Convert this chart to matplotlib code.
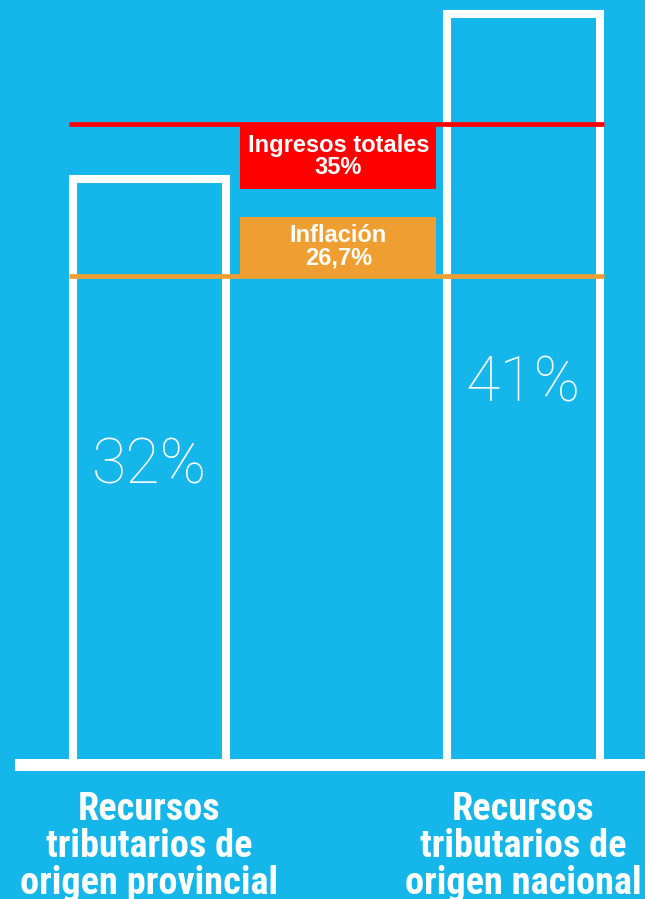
import matplotlib.pyplot as plt
from matplotlib.patches import Rectangle

# datos
categories = ['Recursos\ntributarios de\norigen provincial',
              'Recursos\ntributarios de\norigen nacional']
values = [32, 41]
value_labels = ['32%', '41%']

ref_values = [35, 26.7]
ref_labels = ['Ingresos totales\n35%', 'Inflación\n26,7%']
ref_colors = ['#FF0000', '#EF9F31']

bg = '#15B7EA'

fig = plt.figure(figsize=(6.45, 8.99), dpi=100)
fig.patch.set_facecolor(bg)
ax = fig.add_axes([0, 0, 1, 1])
ax.set_facecolor(bg)
ax.set_xlim(-0.3997, 1.3249)
ax.set_ylim(-7.32, 41.76)
ax.axis('off')

x = list(range(len(values)))
bar_w = 0.409
edge_lw = 5.8
half_edge = 0.0107

# barras (solo contorno blanco)
ax.bar(x, values, width=bar_w, facecolor='none', edgecolor='white',
       linewidth=edge_lw, joinstyle='miter', zorder=2)

for xi, v, lab in zip(x, values, value_labels):
    ax.text(xi, v / 2 + 0.3, lab, ha='center', va='center', color='white',
            fontsize=45, fontfamily='Roboto', fontweight=100, zorder=3)

# linea base
ax.axhline(0, xmin=15 / 645, xmax=1, color='white', lw=8.6,
           solid_capstyle='butt', zorder=4)

# lineas de referencia + cajas
x0 = x[0] - bar_w / 2 - half_edge
x1 = x[-1] + bar_w / 2 + half_edge
box_w = 0.524
box_h = [3.55, 3.2]
for i, (rv, lab, col) in enumerate(zip(ref_values, ref_labels, ref_colors)):
    ax.hlines(rv, x0, x1, color=col, lw=3.4, zorder=5)
    if i == 0:
        y0 = rv - box_h[i]
    else:
        y0 = rv
    ax.add_patch(Rectangle((0.5 - box_w / 2 + 0.005, y0), box_w, box_h[i],
                           facecolor=col, edgecolor='none', zorder=4))
    ax.text(0.505, y0 + box_h[i] / 2, lab, ha='center', va='center',
            color='white', fontsize=17, fontweight='bold',
            fontfamily='Liberation Sans', linespacing=0.95, zorder=6)

# etiquetas de categoria
for xi, cat in zip(x, categories):
    ax.text(xi, -1.45, cat, ha='center', va='top', color='white',
            fontsize=27.5, fontweight='bold', fontstretch='condensed',
            fontfamily=['Roboto Condensed', 'Noto Sans', 'DejaVu Sans'],
            linespacing=1.0, zorder=6)

fig.savefig('out.png', dpi=100, facecolor=bg)
